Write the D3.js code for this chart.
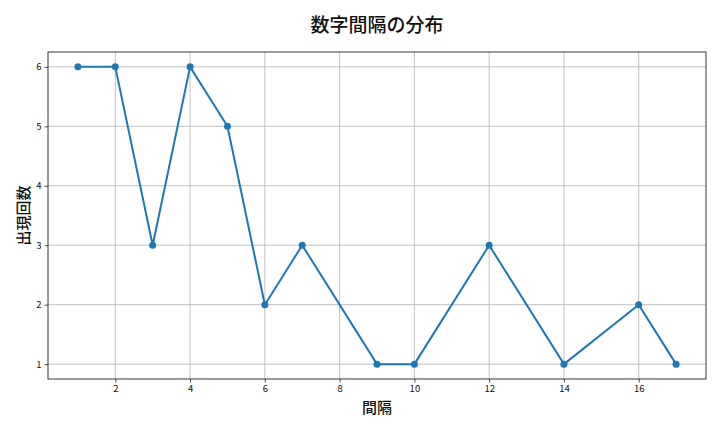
<!DOCTYPE html>
<html>
<head>
<meta charset="utf-8">
<script src="https://cdn.jsdelivr.net/npm/d3@7"></script>
<style>
  body { margin: 0; background: #fff; }
  text { font-family: "Noto Sans CJK JP", "Noto Sans", sans-serif; }
</style>
</head>
<body>
<div id="chart"></div>
<script>
// data
const intervals = [1, 2, 3, 4, 5, 6, 7, 9, 10, 12, 14, 16, 17];
const counts    = [6, 6, 3, 6, 5, 2, 3, 1, 1, 3, 1, 2, 1];
const xTicks = [2, 4, 6, 8, 10, 12, 14, 16];
const yTicks = [1, 2, 3, 4, 5, 6];

const SVG_WIDTH = 720, SVG_HEIGHT = 432;
const MARGIN = {top: 52, right: 14, bottom: 53, left: 48};
const WIDTH = SVG_WIDTH - MARGIN.left - MARGIN.right;
const HEIGHT = SVG_HEIGHT - MARGIN.top - MARGIN.bottom;
const BLUE = "#1f77b4";

const svg = d3.select("#chart").append("svg")
  .attr("width", SVG_WIDTH).attr("height", SVG_HEIGHT);
const g = svg.append("g").attr("transform", `translate(${MARGIN.left},${MARGIN.top})`);

// matplotlib-ish 5% margins
const x = d3.scaleLinear().domain([0.2, 17.8]).range([0, WIDTH]);
const y = d3.scaleLinear().domain([0.75, 6.25]).range([HEIGHT, 0]);

// grid
g.append("g").selectAll("line").data(xTicks).join("line")
  .attr("x1", d => x(d)).attr("x2", d => x(d))
  .attr("y1", 0).attr("y2", HEIGHT)
  .attr("stroke", "#b0b0b0").attr("stroke-width", 0.8);
g.append("g").selectAll("line").data(yTicks).join("line")
  .attr("y1", d => y(d)).attr("y2", d => y(d))
  .attr("x1", 0).attr("x2", WIDTH)
  .attr("stroke", "#b0b0b0").attr("stroke-width", 0.8);

// axes
const xAxis = g.append("g").attr("transform", `translate(0,${HEIGHT})`)
  .call(d3.axisBottom(x).tickValues(xTicks).tickFormat(d3.format("d")).tickSize(3.5).tickPadding(3));
const yAxis = g.append("g")
  .call(d3.axisLeft(y).tickValues(yTicks).tickFormat(d3.format("d")).tickSize(3.5).tickPadding(3));
[xAxis, yAxis].forEach(a => {
  a.select(".domain").remove();
  a.selectAll("line").attr("stroke", "#222").attr("stroke-width", 0.8);
  a.selectAll("text").attr("fill", "#111").style("font-size", "9.5px")
    .style("font-family", "'Noto Sans CJK JP', sans-serif");
});

// frame
g.append("rect").attr("width", WIDTH).attr("height", HEIGHT)
  .attr("fill", "none").attr("stroke", "#222").attr("stroke-width", 0.9);

// line + points
const pts = intervals.map((d, i) => [d, counts[i]]);
g.append("path").datum(pts)
  .attr("fill", "none").attr("stroke", BLUE).attr("stroke-width", 2)
  .attr("stroke-linejoin", "round")
  .attr("d", d3.line().x(d => x(d[0])).y(d => y(d[1])));
g.append("g").selectAll("circle").data(pts).join("circle")
  .attr("cx", d => x(d[0])).attr("cy", d => y(d[1])).attr("r", 3.5)
  .attr("fill", BLUE);

// labels
svg.append("text").attr("x", MARGIN.left + WIDTH / 2).attr("y", 32)
  .attr("text-anchor", "middle").style("font-size", "19px").style("font-weight", "500")
  .attr("fill", "#111").text("数字間隔の分布");
svg.append("text").attr("x", MARGIN.left + WIDTH / 2).attr("y", 413)
  .attr("text-anchor", "middle").style("font-size", "15px").style("font-weight", "500")
  .attr("fill", "#111").text("間隔");
svg.append("text")
  .attr("transform", `translate(29,${MARGIN.top + HEIGHT / 2}) rotate(-90)`)
  .attr("text-anchor", "middle").style("font-size", "15px").style("font-weight", "500")
  .attr("fill", "#111").text("出現回数");
</script>
</body>
</html>
